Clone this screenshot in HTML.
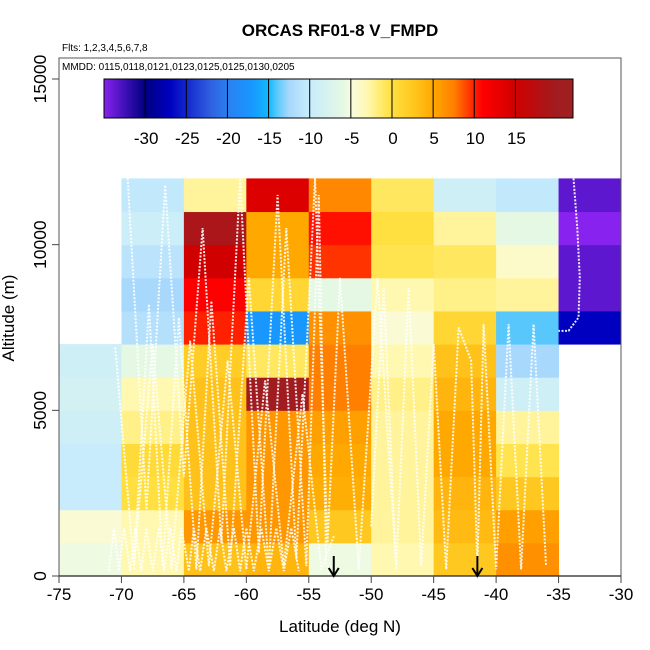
<!DOCTYPE html>
<html><head><meta charset="utf-8"><style>
html,body{margin:0;padding:0;background:#fff}
svg{display:block;font-family:"Liberation Sans",sans-serif}
</style></head><body>
<svg id="chart" width="650" height="650" viewBox="0 0 650 650" xmlns="http://www.w3.org/2000/svg">
<rect width="650" height="650" fill="#fff"/>
<g id="cells"></g>
<g id="tracks"></g>
<g id="axes"></g>
<g id="cbar"></g>
<text x="340" y="36" text-anchor="middle" font-size="17" font-weight="bold">ORCAS RF01-8 V_FMPD</text>
<text x="62" y="51" font-size="10">Flts: 1,2,3,4,5,6,7,8</text>
<text x="62" y="70" font-size="10">MMDD: 0115,0118,0121,0123,0125,0125,0130,0205</text>
<text x="340" y="632" text-anchor="middle" font-size="17">Latitude (deg N)</text>
<text transform="translate(14,318) rotate(-90)" text-anchor="middle" font-size="17">Altitude (m)</text>
</svg>
<script>
// Data
const latBins = [-75,-70,-65,-60,-55,-50,-45,-40,-35];
const altBins = [0,1000,2000,3000,4000,5000,6000,7000,8000,9000,10000,11000];
// values per latitude column, bottom (0-1000) to top; null = no data
const colM75 = [-5.5,-4.5,-10,-10,-9,-8.5,-9,null,null,null,null,null];
const colM70 = [-3,-3,0,0.5,-2,-3,-6,-11.5,-12.5,-11,-9.5,-10.5];
const colM65 = [3,6,3,3,3,3,2,10,11,15,19,-2.5];
const colM60 = [4,6,6,6,6,20,-1,-17,1,5,5,14];
const colM55 = [-5.5,2.5,4.5,5,5.5,7.5,7.5,6.5,-6,9.5,10.5,7];
const colM50 = [-3,-2.5,-2.5,-2.5,-2.5,-2,-3,-4.5,-3,-0.5,0,-1];
const colM45 = [2.5,3.5,4,5,5,4,3,1,-2,-1,-2.5,-9];
const colM40 = [6.5,5.5,2.5,-0.5,-2.5,-9,-12.5,-14,-2.5,-4,-6,-10.5];
const colM35 = [null,null,null,null,null,null,null,-27,-33.5,-33.5,-35,-33.5];
const columns = [colM75,colM70,colM65,colM60,colM55,colM50,colM45,colM40,colM35];
const xTicks = [-75,-70,-65,-60,-55,-50,-45,-40,-35,-30];
const yTicks = [0,5000,10000,15000];
const cbTicks = [-30,-25,-20,-15,-10,-5,0,5,10,15];
const arrowLats = [-53,-41.5];
// flight track samples (lat, alt)
const trackLowLat = [-71,-70.6,-70.2,-69.8,-69.3,-68.9,-68.4,-68,-67.5,-67,-66.6,-66.1,-65.6,-65.2,-64.6,-64.2,-63.7,-63.2,-62.6,-62.1,-61.6,-61,-60.5,-60,-59.4,-58.8,-58.2,-57.6,-57,-56.4,-55.8];
const trackLowAlt = [150,1450,150,1450,150,1450,150,1450,150,1450,150,1450,150,1450,150,1450,150,1450,150,1450,150,1450,150,1450,150,1450,150,1450,150,1450,150];
const trackMidLat = [-70.5,-69,-67.5,-66,-64.5,-63,-61.5,-60,-58.5,-57,-55.5,-54,-53];
const trackMidAlt = [6900,300,7000,200,7100,300,6500,200,5900,300,5500,200,1200];
const trackHiLat = [-69.5,-68,-66.5,-65,-63.5,-62,-60.5,-59,-57.5,-56,-54.5,-53.5,-52.5,-51,-49.5,-48];
const trackHiAlt = [12000,2000,11800,3000,10500,1000,12000,700,11500,500,12000,1000,9000,200,9000,300];
const trackMid2Lat = [-69,-67.8,-66.7,-65.4,-64,-62.8,-61.3,-59.8,-58.2,-56.8,-55.2,-54.2,-53.6];
const trackMid2Alt = [200,8200,300,7800,200,8300,300,9000,200,10500,300,11500,300];
const trackNLat = [-50,-49,-48,-47,-46,-45,-44,-43,-42,-41.5,-41,-40,-39,-38,-37,-36];
const trackNAlt = [1500,8700,200,8700,300,7000,200,7500,6500,300,7600,200,7600,200,7600,300];
const trackSLat = [-33.8,-33.5,-33.3,-33.4,-34.2,-35];
const trackSAlt = [12000,10500,9000,7800,7400,7400];

const X0=59,X1=621,Y0=576,Y15=79;
const xs = v => X0 + (v+75)*(X1-X0)/45;
const ys = v => Y0 - v*(Y0-Y15)/15000;
const NS="http://www.w3.org/2000/svg";
function mk(tag,attrs,parent){const e=document.createElementNS(NS,tag);for(const k in attrs)e.setAttribute(k,attrs[k]);parent.appendChild(e);return e;}

const stops=[[-35,[136,34,238]],[-32.5,[64,16,184]],[-30,[0,0,128]],[-27,[0,0,192]],[-22,[48,96,224]],[-20,[42,128,240]],[-17,[24,152,255]],[-15,[16,184,255]],[-14,[88,200,252]],[-12.5,[168,216,252]],[-10,[200,236,252]],[-6,[228,248,228]],[-5,[248,252,224]],[-3,[255,248,176]],[-1,[255,232,96]],[0,[255,224,64]],[2.5,[255,200,32]],[5,[255,168,0]],[7.5,[255,128,0]],[10,[255,32,0]],[11,[255,0,0]],[15,[208,0,0]],[20,[160,28,32]],[22,[160,32,32]]];
function color(v){
  if(v<=stops[0][0])return `rgb(${stops[0][1]})`;
  for(let i=1;i<stops.length;i++){if(v<=stops[i][0]){const a=stops[i-1],b=stops[i],t=(v-a[0])/(b[0]-a[0]);
    return `rgb(${a[1].map((c,j)=>Math.round(c+(b[1][j]-c)*t)).join(',')})`;}}
  return `rgb(${stops[stops.length-1][1]})`;
}

const cg=document.getElementById('cells');
columns.forEach((col,ci)=>{col.forEach((v,ri)=>{if(v===null)return;
  const x0=xs(latBins[ci]),x1=xs(latBins[ci]+5),y0=ys(altBins[ri]+1000),y1=ys(altBins[ri]);
  const r=mk('rect',{x:x0,y:y0,width:x1-x0+0.5,height:y1-y0+0.5,fill:color(v)},cg);
  
  
});});

const tg=document.getElementById('tracks');
[[trackLowLat,trackLowAlt],[trackMidLat,trackMidAlt],[trackHiLat,trackHiAlt],[trackMid2Lat,trackMid2Alt],[trackNLat,trackNAlt],[trackSLat,trackSAlt]].forEach(([la,al])=>{
  const p=mk('polyline',{points:la.map((l,i)=>xs(l)+','+ys(al[i])).join(' '),fill:'none',stroke:'#fff','stroke-width':2,'stroke-dasharray':'2 1.5','stroke-opacity':0.9},tg);
  
  
});

const ag=document.getElementById('axes');
const box=mk('rect',{x:X0,y:58,width:X1-X0,height:Y0-58,fill:'none',stroke:'#555','stroke-width':1},ag);


mk('line',{x1:X0,y1:Y0,x2:X1,y2:Y0,stroke:'#222','stroke-width':1.2},ag);
xTicks.forEach(t=>{mk('line',{x1:xs(t),y1:Y0,x2:xs(t),y2:Y0+7,stroke:'#444'},ag);
  const tx=mk('text',{x:xs(t),y:Y0+24,'text-anchor':'middle','font-size':17},ag);tx.textContent=t;
  
  
});
yTicks.forEach(t=>{mk('line',{x1:X0-7,y1:ys(t),x2:X0,y2:ys(t),stroke:'#444'},ag);
  const tx=mk('text',{transform:`translate(${X0-13},${ys(t)}) rotate(-90)`,'text-anchor':'middle','font-size':17.5},ag);tx.textContent=t;
  
  
});
arrowLats.forEach(l=>{const x=xs(l);
  const g=mk('g',{stroke:'#000','stroke-width':2,fill:'none'},ag);
  
  
  mk('line',{x1:x,y1:556,x2:x,y2:576},g);
  mk('polyline',{points:`${x-5},${568} ${x},${576} ${x+5},${568}`},g);
});

// colorbar
const bg=document.getElementById('cbar');
const CB0=104,CB1=573,vmin=-35,vmax=22;
const cx=v=>CB0+(v-vmin)*(CB1-CB0)/(vmax-vmin);
const defs=mk('defs',{},bg);
const grad=mk('linearGradient',{id:'cg',x1:0,x2:1,y1:0,y2:0},defs);
stops.forEach(s=>{mk('stop',{offset:Math.max(0,Math.min(1,(s[0]-vmin)/(vmax-vmin))),'stop-color':`rgb(${s[1]})`},grad);});
const bar=mk('rect',{x:CB0,y:79,width:CB1-CB0,height:39,fill:'url(#cg)',stroke:'#000','stroke-width':1},bg);


cbTicks.forEach(t=>{mk('line',{x1:cx(t),y1:79,x2:cx(t),y2:118,stroke:'#000','stroke-width':1},bg);
  const tx=mk('text',{x:cx(t)+1,y:144,'text-anchor':'middle','font-size':17},bg);tx.textContent=t;
  
  
});
</script>
</body></html>
